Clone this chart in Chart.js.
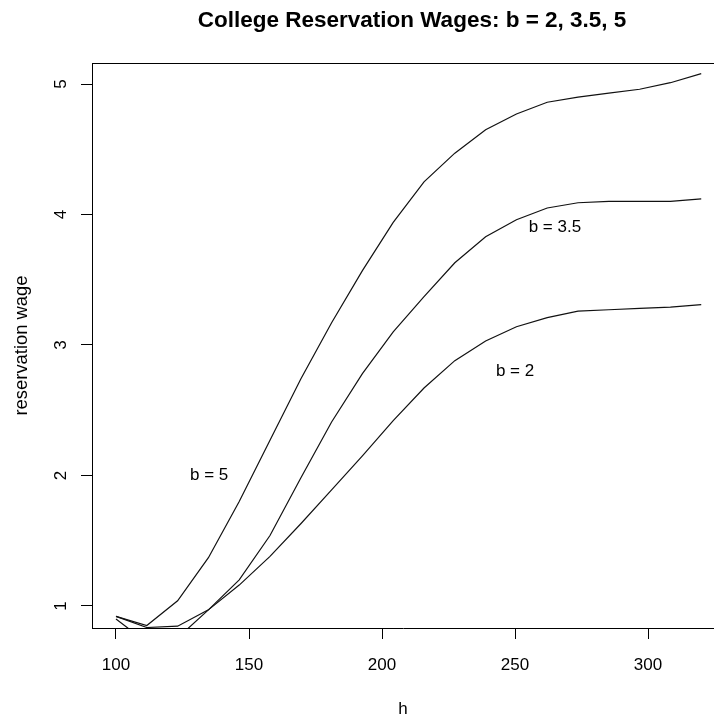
<!DOCTYPE html>
<html>
<head>
<meta charset="utf-8">
<title>College Reservation Wages</title>
<script src="https://cdn.jsdelivr.net/npm/chart.js@4/dist/chart.umd.min.js"></script>
<style>
  html, body { margin: 0; padding: 0; background: #fff; }
  #wrap { width: 714px; height: 721px; }
</style>
</head>
<body>
<div id="wrap"><canvas id="wageChart" width="714" height="721"></canvas></div>
<script>
// h grid (20 points from 100 to 320)
const hValues = [100, 111.58, 123.16, 134.74, 146.32, 157.89, 169.47, 181.05, 192.63, 204.21,
                 215.79, 227.37, 238.95, 250.53, 262.11, 273.68, 285.26, 296.84, 308.42, 320];

// reservation wage curves
const wageB5  = [0.92, 0.85, 1.04, 1.37, 1.80, 2.27, 2.74, 3.17, 3.57, 3.94,
                 4.25, 4.47, 4.65, 4.77, 4.86, 4.90, 4.93, 4.96, 5.01, 5.08];
const wageB35 = [0.90, 0.72, 0.755, 0.97, 1.20, 1.54, 1.98, 2.41, 2.78, 3.10,
                 3.37, 3.63, 3.83, 3.96, 4.05, 4.09, 4.10, 4.10, 4.10, 4.12];
const wageB2  = [0.92, 0.835, 0.845, 0.97, 1.16, 1.38, 1.63, 1.89, 2.15, 2.42,
                 2.67, 2.88, 3.03, 3.14, 3.21, 3.26, 3.27, 3.28, 3.29, 3.31];

// axis ticks
const xTicks = [100, 150, 200, 250, 300];
const yTicks = [1, 2, 3, 4, 5];

// text labels inside the plot (data coordinates)
const curveLabels = ['b = 5', 'b = 3.5', 'b = 2'];
const curveLabelX = [135, 265, 250];
const curveLabelY = [2, 3.9, 2.8];

const chartTitle = 'College Reservation Wages: b = 2, 3.5, 5';
const FONT = "'Liberation Sans', Arial, sans-serif";
const INK = '#000';

function toPoints(ys) {
    return hValues.map((h, i) => ({ x: h, y: ys[i] }));
}

function curve(label, ys) {
    return {
        label: label,
        data: toPoints(ys),
        borderColor: '#111',
        borderWidth: 1.2,
        pointRadius: 0,
        tension: 0,
        fill: false
    };
}

// Title, top border, rotated y tick labels and curve labels
const plotExtras = {
    id: 'plotExtras',
    afterDraw(chart) {
        const { ctx, chartArea: area, scales } = chart;
        ctx.save();

        // top edge of the box
        ctx.strokeStyle = INK;
        ctx.lineWidth = 1;
        ctx.beginPath();
        ctx.moveTo(area.left, area.top + 0.5);
        ctx.lineTo(area.right, area.top + 0.5);
        ctx.stroke();

        ctx.fillStyle = INK;

        // main title
        ctx.font = `bold 22.5px ${FONT}`;
        ctx.textAlign = 'center';
        ctx.textBaseline = 'middle';
        ctx.fillText(chartTitle, 412, 21);

        // y tick labels, rotated like R's default
        ctx.font = `17px ${FONT}`;
        yTicks.forEach(v => {
            const py = scales.y.getPixelForValue(v);
            ctx.save();
            ctx.translate(61, py);
            ctx.rotate(-Math.PI / 2);
            ctx.fillText(String(v), 0, 0);
            ctx.restore();
        });

        // curve labels
        curveLabels.forEach((txt, i) => {
            const px = scales.x.getPixelForValue(curveLabelX[i]);
            const py = scales.y.getPixelForValue(curveLabelY[i]);
            ctx.fillText(txt, px, py);
        });

        ctx.restore();
    }
};

new Chart(document.getElementById('wageChart'), {
    type: 'line',
    data: {
        datasets: [
            curve('b = 5', wageB5),
            curve('b = 3.5', wageB35),
            curve('b = 2', wageB2)
        ]
    },
    options: {
        responsive: false,
        animation: false,
        layout: { padding: { top: 63, left: 0, right: 0, bottom: 0 } },
        plugins: {
            legend: { display: false },
            tooltip: { enabled: false }
        },
        scales: {
            x: {
                type: 'linear',
                min: 90.98,
                max: 324.8,
                afterBuildTicks: scale => { scale.ticks = xTicks.map(v => ({ value: v })); },
                afterFit: scale => { scale.height = 93; },
                grid: { drawOnChartArea: false, drawTicks: true, tickLength: 11, color: INK, tickColor: INK },
                border: { display: true, color: INK, width: 1 },
                ticks: {
                    autoSkip: false,
                    maxRotation: 0,
                    padding: 16,
                    color: INK,
                    font: { family: FONT, size: 17 }
                },
                title: {
                    display: true,
                    text: 'h',
                    color: INK,
                    font: { family: FONT, size: 17 },
                    padding: { top: 0, bottom: 1 }
                }
            },
            y: {
                type: 'linear',
                min: 0.831,
                max: 5.161,
                afterBuildTicks: scale => { scale.ticks = yTicks.map(v => ({ value: v })); },
                afterFit: scale => { scale.width = 92; },
                grid: { drawOnChartArea: false, drawTicks: true, tickLength: 11, color: INK, tickColor: INK },
                border: { display: true, color: INK, width: 1 },
                ticks: { display: false },
                title: {
                    display: true,
                    text: 'reservation wage',
                    color: INK,
                    font: { family: FONT, size: 18.4 },
                    padding: { top: 11, bottom: 0 }
                }
            }
        }
    },
    plugins: [plotExtras]
});
</script>
</body>
</html>
